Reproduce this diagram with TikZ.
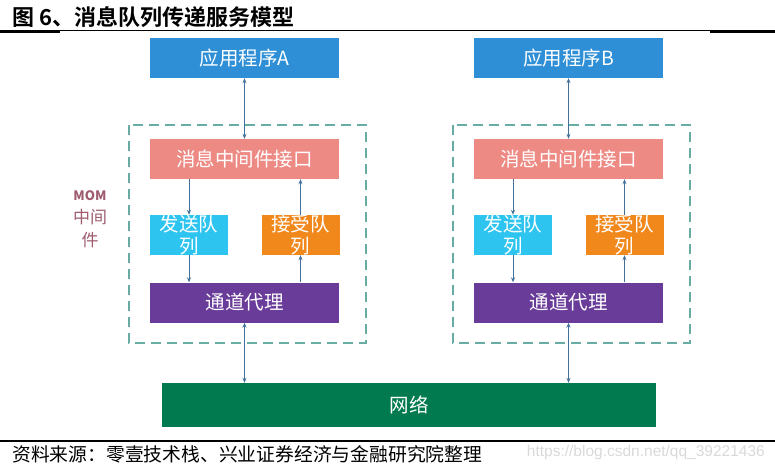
\documentclass[tikz,border=0pt]{standalone}
\usepackage{fontspec}
\newfontfamily\cjk{Noto Sans CJK SC}
\newfontfamily\cjkbold{Noto Sans CJK SC Bold}
\usetikzlibrary{arrows.meta,positioning}

\definecolor{appblue}{HTML}{2E8FD6}
\definecolor{intpink}{HTML}{EE8A84}
\definecolor{sendcyan}{HTML}{2EC4F0}
\definecolor{recvorange}{HTML}{F0881C}
\definecolor{chanpurple}{HTML}{6A3C99}
\definecolor{netgreen}{HTML}{007A4E}
\definecolor{arrblue}{HTML}{41709A}
\definecolor{dashgreen}{HTML}{68ADA4}
\definecolor{momrose}{HTML}{9E5B6E}

\begin{document}
\begin{tikzpicture}[
  x=1pt, y=-1pt,
  box/.style={draw=none, inner sep=0pt, align=center, text=white,
    font=\cjk\fontsize{19.5}{21.5}\selectfont},
  widebox/.style={box, minimum width=189pt, minimum height=40pt},
  qbox/.style={box, minimum width=78pt, minimum height=40pt},
  mom/.style={dashed, dash pattern=on 10pt off 6pt, draw=dashgreen, line width=1.1pt},
  arr/.style={-{Stealth[length=5pt,width=4pt]}, draw=arrblue, line width=1pt},
  darr/.style={{Stealth[length=5pt,width=4pt]}-{Stealth[length=5pt,width=4pt]}, draw=arrblue, line width=1pt}
]
\useasboundingbox (0,0) rectangle (775,467);

% title and rules
\node[anchor=west, inner sep=0pt, font=\cjkbold\fontsize{22}{24}\selectfont] (title) at (12,17) {图 6、消息队列传递服务模型};
\draw[line width=0.8pt] (0,30.5) -- (775,30.5);
\draw[line width=2pt] (0,31.5) -- (60,31.5);
\draw[line width=2pt] (710,31.5) -- (775,31.5);
\draw[line width=2pt] (0,440.5) -- (775,440.5);
\node[anchor=west, inner sep=0pt, font=\cjk\fontsize{18.8}{20}\selectfont] (src) at (12,454) {资料来源：零壹技术栈、兴业证券经济与金融研究院整理};
\node[anchor=east, inner sep=0pt, text=black!15, font=\fontspec{Liberation Sans}\fontsize{15.5}{17}\selectfont] (mark) at (765,452) {https://blog.csdn.net/qq\_39221436};

% middleware frames
\draw[mom] (129,125) rectangle (366,343);
\draw[mom] (453,125) rectangle (690,343);
\node[align=center, inner sep=0pt, text=momrose, font=\cjk\fontsize{17}{23}\selectfont] (momlab) at (90,219)
  {{\fontsize{13}{23}\selectfont\bfseries MOM}\\中间\\件};

% side A
\node[widebox, fill=appblue] (appA) at (244.5,58) {应用程序A};
\node[widebox, fill=intpink] (intA) at (244.5,159) {消息中间件接口};
\node[qbox, fill=sendcyan] (sendA) at (189,235) {发送队\\列};
\node[qbox, fill=recvorange] (recvA) at (300.5,235) {接受队\\列};
\node[widebox, fill=chanpurple] (chanA) at (244.5,302.5) {通道代理};

% side B
\node[widebox, fill=appblue] (appB) at (568.5,58) {应用程序B};
\node[widebox, fill=intpink] (intB) at (568.5,159) {消息中间件接口};
\node[qbox, fill=sendcyan] (sendB) at (513,235) {发送队\\列};
\node[qbox, fill=recvorange] (recvB) at (624.5,235) {接受队\\列};
\node[widebox, fill=chanpurple] (chanB) at (568.5,302.5) {通道代理};

% network
\node[box, fill=netgreen, minimum width=494pt, minimum height=44pt] (net) at (409,405) {网络};

% connectors
\draw[darr] (appA) -- (intA);
\draw[arr] (intA.south -| sendA) -- (sendA);
\draw[arr] (sendA) -- (chanA.north -| sendA);
\draw[arr] (chanA.north -| recvA) -- (recvA);
\draw[arr] (recvA) -- (intA.south -| recvA);
\draw[darr] (chanA) -- (net.north -| chanA);

\draw[darr] (appB) -- (intB);
\draw[arr] (intB.south -| sendB) -- (sendB);
\draw[arr] (sendB) -- (chanB.north -| sendB);
\draw[arr] (chanB.north -| recvB) -- (recvB);
\draw[arr] (recvB) -- (intB.south -| recvB);
\draw[darr] (chanB) -- (net.north -| chanB);
\end{tikzpicture}
\end{document}
